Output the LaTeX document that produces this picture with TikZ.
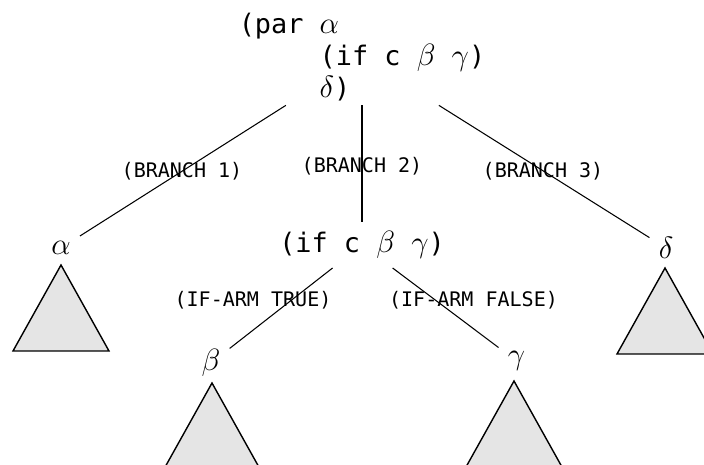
\documentclass[tikz,border=0pt]{standalone}
\usepackage{fix-cm}
\usepackage{amsmath}
\usepackage{fontspec}
\setmonofont{DejaVu Sans Mono}
\usepackage{tikz}
\newcommand{\gk}[1]{{\fontsize{17.5}{18.4}\selectfont$#1$}}

\begin{document}
\begin{tikzpicture}[line width=0.6pt,
		code/.style={font=\fontsize{15.3}{18.4}\selectfont\ttfamily, inner sep=5pt},
		leaf/.style={font=\fontsize{17.5}{18.4}\selectfont, inner sep=5pt},
		arm/.style={font=\fontsize{11.4}{13.7}\selectfont\ttfamily, inner sep=0pt},
		subtree/.style={draw, line width=0.8pt, fill=black!10}]
		\useasboundingbox (0,0) rectangle (14.08,-9.3);
		\node[code, align=left, inner sep=2pt] (par)at(7.24,-1.14) {(par \gk{\alpha}\\\hphantom{(par\ }(if c \gk{\beta} \gk{\gamma})\\\hphantom{(par\ }\gk{\delta})};
		\node[code] (if)at(7.24,-4.9) {(if c \gk{\beta} \gk{\gamma})};
		\node[leaf] (alpha)at(1.22,-4.96) {$\alpha$};
		\node[leaf] (delta)at(13.32,-4.96) {$\delta$};
		\node[leaf] (beta)at(4.22,-7.26) {$\beta$};
		\node[leaf] (gamma)at(10.33,-7.22) {$\gamma$};
		\draw (par) -- (alpha);
		\draw (par) -- (if);
		\draw (par) -- (delta);
		\draw (if) -- (beta);
		\draw (if) -- (gamma);
		\node[arm] (br1)at(3.64,-3.42) {(BRANCH 1)};
		\node[arm] (br2)at(7.24,-3.32) {(BRANCH 2)};
		\node[arm] (br3)at(10.86,-3.42) {(BRANCH 3)};
		\node[arm] (armt)at(5.06,-6.0) {(IF-ARM TRUE)};
		\node[arm] (armf)at(9.47,-6.0) {(IF-ARM FALSE)};
		
		\draw[subtree] (1.22,-5.3) -- ++(-0.96,-1.72) -- ++(1.92,0) -- cycle;
		\draw[subtree] (13.3,-5.36) -- ++(-0.96,-1.72) -- ++(1.92,0) -- cycle;
		\draw[subtree] (4.24,-7.66) -- ++(-0.96,-1.72) -- ++(1.92,0) -- cycle;
		\draw[subtree] (10.28,-7.62) -- ++(-0.96,-1.72) -- ++(1.92,0) -- cycle;
		
		\end{tikzpicture}
\end{document}
